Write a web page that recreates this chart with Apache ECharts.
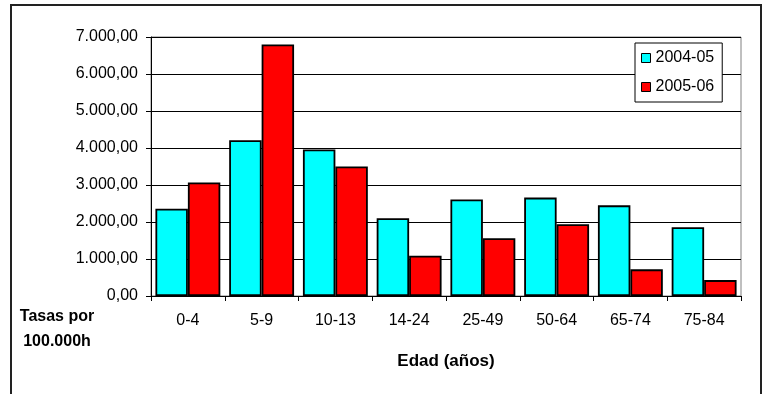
<!DOCTYPE html>
<html>
<head>
<meta charset="utf-8">
<script src="https://cdn.jsdelivr.net/npm/echarts@6/dist/echarts.min.js"></script>
<style>
  html, body { margin: 0; padding: 0; background: #fff; }
  #chart { width: 765px; height: 394px; }
</style>
</head>
<body>
<div id="chart"></div>
<script>
// Age groups on the x axis
const categories = ['0-4', '5-9', '10-13', '14-24', '25-49', '50-64', '65-74', '75-84'];
// Rates per 100.000 inhabitants for each season
const rates2004 = [2360, 4210, 3960, 2100, 2610, 2660, 2450, 1860];
const rates2005 = [3070, 6800, 3500, 1090, 1560, 1940, 720, 430];
const seriesNames = ['2004-05', '2005-06'];
const yTicks = [0, 1000, 2000, 3000, 4000, 5000, 6000, 7000];

const FONT = '"Liberation Sans", Arial, sans-serif';

// 7000 -> "7.000,00"
function fmt(v) {
  const s = Math.round(v).toString().replace(/\B(?=(\d{3})+(?!\d))/g, '.');
  return s + ',00';
}

const chart = echarts.init(document.getElementById('chart'), null, { renderer: 'canvas' });

chart.setOption({
  animation: false,
  backgroundColor: '#ffffff',
  textStyle: { fontFamily: FONT },
  grid: {
    left: 151, top: 37, right: 24, bottom: 98,
    show: true, borderColor: '#808080', borderWidth: 1
  },
  legend: {
    orient: 'vertical',
    left: 635, top: 43,
    padding: [7, 8, 7, 6],
    itemGap: 13,
    itemWidth: 9, itemHeight: 9,
    borderColor: '#000', borderWidth: 1,
    backgroundColor: '#fff',
    itemStyle: { borderColor: '#000', borderWidth: 1 },
    textStyle: { fontFamily: FONT, fontSize: 16, color: '#000' },
    data: seriesNames.map(n => ({ name: n, icon: 'rect' }))
  },
  xAxis: {
    type: 'category',
    data: categories,
    name: 'Edad (años)',
    nameLocation: 'middle',
    nameGap: 57,
    nameTextStyle: { fontFamily: FONT, fontSize: 17, fontWeight: 'bold', color: '#000' },
    axisLine: { lineStyle: { color: '#000', width: 1 } },
    axisTick: { show: true, alignWithLabel: false, length: 5, lineStyle: { color: '#000' } },
    axisLabel: { fontFamily: FONT, fontSize: 16, color: '#000', margin: 17 }
  },
  yAxis: {
    type: 'value',
    min: yTicks[0], max: yTicks[yTicks.length - 1], interval: yTicks[1] - yTicks[0],
    axisLine: { show: true, lineStyle: { color: '#000', width: 1 } },
    axisTick: { show: true, length: 5, lineStyle: { color: '#000' } },
    axisLabel: { fontFamily: FONT, fontSize: 16, color: '#000', margin: 13, formatter: fmt },
    splitLine: { show: true, lineStyle: { color: '#000', width: 1 } }
  },
  series: [
    {
      name: seriesNames[0], type: 'bar', data: rates2004,
      barGap: '0%', barCategoryGap: '12%',
      itemStyle: { color: '#00ffff', borderColor: '#000', borderWidth: 1.8 }
    },
    {
      name: seriesNames[1], type: 'bar', data: rates2005,
      barGap: '0%', barCategoryGap: '12%',
      itemStyle: { color: '#ff0000', borderColor: '#000', borderWidth: 1.8 }
    }
  ],
  graphic: [
    {
      type: 'rect', silent: true, z: -1,
      shape: { x: 11, y: 5, width: 750, height: 400 },
      style: { fill: 'none', stroke: '#222', lineWidth: 2 }
    },
    {
      type: 'text', x: 57, y: 317, silent: true,
      style: {
        text: 'Tasas por', fontFamily: FONT, fontSize: 16, fontWeight: 'bold',
        fill: '#000', align: 'center', verticalAlign: 'middle'
      }
    },
    {
      type: 'text', x: 57, y: 342, silent: true,
      style: {
        text: '100.000h', fontFamily: FONT, fontSize: 16, fontWeight: 'bold',
        fill: '#000', align: 'center', verticalAlign: 'middle'
      }
    }
  ]
});
</script>
</body>
</html>
